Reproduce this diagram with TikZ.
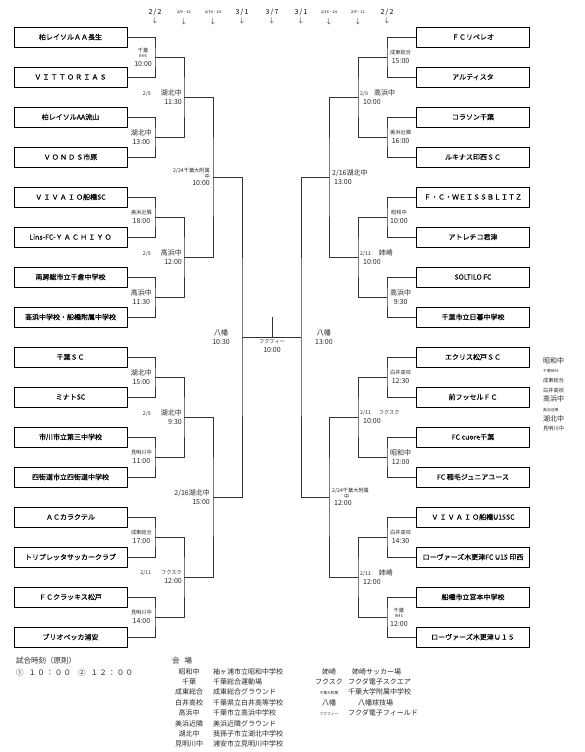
\documentclass[tikz,border=0pt]{standalone}
\usepackage{fontspec}
\setmainfont{Noto Sans CJK JP}
\newfontfamily\teamfam{Noto Sans CJK JP}[FakeBold=0.3]
\usetikzlibrary{positioning}
\newcommand\teamfont{\teamfam\fontsize{7}{8}\selectfont}
\newcommand\smfont{\fontsize{5.2}{6}\selectfont}
\newcommand\tnfont{\fontsize{3.8}{4.5}\selectfont}

\begin{document}
\begin{tikzpicture}[x=1pt,y=-1pt,
  team/.style={draw=black,line width=0.8pt,minimum width=113pt,minimum height=20pt,inner sep=0pt,font=\teamfont},
  brk/.style={draw=black!80,line width=0.8pt},
  lbl/.style={inner sep=0pt,align=center,font=\fontsize{7}{9.5}\selectfont,text=black!85},
  dte/.style={inner sep=0pt,font=\fontsize{7}{8}\selectfont},
  lst/.style={inner sep=0pt,font=\fontsize{7}{10.4}\selectfont,text=black!85}]
\useasboundingbox (0,0) rectangle (584,752);

% dates of each round
\node[dte] (dt_l1) at (155,12) {2\,/\,2};
\node[dte] (dt_l2) at (184,12) {\tnfont 2/9・11};
\node[dte] (dt_l3) at (213,12) {\tnfont 2/16・24};
\node[dte] (dt_l4) at (242,12) {3\,/\,1};
\node[dte] (dt_fin) at (272,12) {3\,/\,7};
\node[dte] (dt_r4) at (301,12) {3\,/\,1};
\node[dte] (dt_r3) at (329,12) {\tnfont 2/16・24};
\node[dte] (dt_r2) at (358,12) {\tnfont 2/9・11};
\node[dte] (dt_r1) at (387,12) {2\,/\,2};
\node[dte,below=2pt of dt_l1] (ar_l1) {$\downarrow$};
\node[dte,below=4pt of dt_l2] (ar_l2) {$\downarrow$};
\node[dte,below=4pt of dt_l3] (ar_l3) {$\downarrow$};
\node[dte,below=2pt of dt_l4] (ar_l4) {$\downarrow$};
\node[dte,below=2pt of dt_fin] (ar_fin) {$\downarrow$};
\node[dte,below=2pt of dt_r4] (ar_r4) {$\downarrow$};
\node[dte,below=4pt of dt_r3] (ar_r3) {$\downarrow$};
\node[dte,below=4pt of dt_r2] (ar_r2) {$\downarrow$};
\node[dte,below=2pt of dt_r1] (ar_r1) {$\downarrow$};

% left teams
\node[team] (tm_l1) at (70.5,37) {柏レイソルＡＡ長生};
\node[team] (tm_l2) at (70.5,77) {Ｖ\,Ｉ\,Ｔ\,Ｔ\,Ｏ\,Ｒ\,Ｉ\,Ａ\,Ｓ};
\node[team] (tm_l3) at (70.5,117) {柏レイソルAA流山};
\node[team] (tm_l4) at (70.5,157) {Ｖ\,Ｏ\,Ｎ\,Ｄ\,Ｓ市原};
\node[team] (tm_l5) at (70.5,197) {Ｖ\,Ｉ\,Ｖ\,Ａ\,Ｉ\,Ｏ船橋SC};
\node[team] (tm_l6) at (70.5,237) {Lins-FC-Ｙ\,Ａ\,Ｃ\,Ｈ\,Ｉ\,Ｙ\,Ｏ};
\node[team] (tm_l7) at (70.5,277) {南房総市立千倉中学校};
\node[team] (tm_l8) at (70.5,317) {高浜中学校・船橋附属中学校};
\node[team] (tm_l9) at (70.5,357) {千葉ＳＣ};
\node[team] (tm_l10) at (70.5,397) {ミナトSC};
\node[team] (tm_l11) at (70.5,437) {市川市立第三中学校};
\node[team] (tm_l12) at (70.5,477) {四街道市立四街道中学校};
\node[team] (tm_l13) at (70.5,517) {ＡＣカラクテル};
\node[team] (tm_l14) at (70.5,557) {トリプレッタサッカークラブ};
\node[team] (tm_l15) at (70.5,597) {ＦＣクラッキス松戸};
\node[team] (tm_l16) at (70.5,637) {ブリオベッカ浦安};

% right teams
\node[team] (tm_r1) at (473,37) {ＦＣリベレオ};
\node[team] (tm_r2) at (473,77) {アルティスタ};
\node[team] (tm_r3) at (473,117) {コラソン千葉};
\node[team] (tm_r4) at (473,157) {ルキナス印西ＳＣ};
\node[team] (tm_r5) at (473,197) {Ｆ・Ｃ・ＷＥＩＳＳＢＬＩＴＺ};
\node[team] (tm_r6) at (473,237) {アトレチコ君津};
\node[team] (tm_r7) at (473,277) {SOLTILO FC};
\node[team] (tm_r8) at (473,317) {千葉市立日暮中学校};
\node[team] (tm_r9) at (473,357) {エクリス松戸ＳＣ};
\node[team] (tm_r10) at (473,397) {前フッセルＦＣ};
\node[team] (tm_r11) at (473,437) {FC cuore千葉};
\node[team] (tm_r12) at (473,477) {FC 稲毛ジュニアユース};
\node[team] (tm_r13) at (473,517) {Ｖ\,Ｉ\,Ｖ\,Ａ\,Ｉ\,Ｏ船橋U15SC};
\node[team] (tm_r14) at (473,557) {ローヴァーズ木更津FC U15 印西};
\node[team] (tm_r15) at (473,597) {船橋市立宮本中学校};
\node[team] (tm_r16) at (473,637) {ローヴァーズ木更津Ｕ１５};

% match points
\coordinate (ml1) at (155,57);
\coordinate (ml2) at (155,137);
\coordinate (ml3) at (155,217);
\coordinate (ml4) at (155,297);
\coordinate (ml5) at (155,377);
\coordinate (ml6) at (155,457);
\coordinate (ml7) at (155,537);
\coordinate (ml8) at (155,617);
\coordinate (nl1) at (184,97);
\coordinate (nl2) at (184,257);
\coordinate (nl3) at (184,417);
\coordinate (nl4) at (184,577);
\coordinate (ol1) at (213,177);
\coordinate (ol2) at (213,497);
\coordinate (pl) at (242,337);
\coordinate (mr1) at (387,57);
\coordinate (mr2) at (387,137);
\coordinate (mr3) at (387,217);
\coordinate (mr4) at (387,297);
\coordinate (mr5) at (387,377);
\coordinate (mr6) at (387,457);
\coordinate (mr7) at (387,537);
\coordinate (mr8) at (387,617);
\coordinate (nr1) at (358,97);
\coordinate (nr2) at (358,257);
\coordinate (nr3) at (358,417);
\coordinate (nr4) at (358,577);
\coordinate (or1) at (329,177);
\coordinate (or2) at (329,497);
\coordinate (pr) at (301,337);
\coordinate (fin) at (272,337);
\coordinate (champ) at (272,317);

% bracket lines
\draw[brk] (tm_l1.east) -| (ml1) |- (tm_l2.east);
\draw[brk] (tm_l3.east) -| (ml2) |- (tm_l4.east);
\draw[brk] (tm_l5.east) -| (ml3) |- (tm_l6.east);
\draw[brk] (tm_l7.east) -| (ml4) |- (tm_l8.east);
\draw[brk] (tm_l9.east) -| (ml5) |- (tm_l10.east);
\draw[brk] (tm_l11.east) -| (ml6) |- (tm_l12.east);
\draw[brk] (tm_l13.east) -| (ml7) |- (tm_l14.east);
\draw[brk] (tm_l15.east) -| (ml8) |- (tm_l16.east);
\draw[brk] (ml1) -| (nl1) |- (ml2);
\draw[brk] (ml3) -| (nl2) |- (ml4);
\draw[brk] (ml5) -| (nl3) |- (ml6);
\draw[brk] (ml7) -| (nl4) |- (ml8);
\draw[brk] (nl1) -| (ol1) |- (nl2);
\draw[brk] (nl3) -| (ol2) |- (nl4);
\draw[brk] (ol1) -| (pl) |- (ol2);
\draw[brk] (tm_r1.west) -| (mr1) |- (tm_r2.west);
\draw[brk] (tm_r3.west) -| (mr2) |- (tm_r4.west);
\draw[brk] (tm_r5.west) -| (mr3) |- (tm_r6.west);
\draw[brk] (tm_r7.west) -| (mr4) |- (tm_r8.west);
\draw[brk] (tm_r9.west) -| (mr5) |- (tm_r10.west);
\draw[brk] (tm_r11.west) -| (mr6) |- (tm_r12.west);
\draw[brk] (tm_r13.west) -| (mr7) |- (tm_r14.west);
\draw[brk] (tm_r15.west) -| (mr8) |- (tm_r16.west);
\draw[brk] (mr1) -| (nr1) |- (mr2);
\draw[brk] (mr3) -| (nr2) |- (mr4);
\draw[brk] (mr5) -| (nr3) |- (mr6);
\draw[brk] (mr7) -| (nr4) |- (mr8);
\draw[brk] (nr1) -| (or1) |- (nr2);
\draw[brk] (nr3) -| (or2) |- (nr4);
\draw[brk] (or1) -| (pr) |- (or2);
\draw[brk] (pl) -- (pr);
\draw[brk] (fin) -- (champ);

% venues and kick-off times, left
\node[lbl,left=3pt of ml1] (lb_ml1) {{\smfont 千葉}\\[-4pt]{\tnfont RMS}\\[-1pt]10:00};
\node[lbl,left=3pt of ml2] (lb_ml2) {湖北中\\13:00};
\node[lbl,left=3pt of ml3] (lb_ml3) {{\smfont 美浜近隣}\\18:00};
\node[lbl,left=3pt of ml4] (lb_ml4) {高浜中\\11:30};
\node[lbl,left=3pt of ml5] (lb_ml5) {湖北中\\15:00};
\node[lbl,left=3pt of ml6] (lb_ml6) {{\smfont 見明川中}\\11:00};
\node[lbl,left=3pt of ml7] (lb_ml7) {{\smfont 成東総合}\\17:00};
\node[lbl,left=3pt of ml8] (lb_ml8) {{\smfont 見明川中}\\14:00};
\node[lbl,left=2pt of nl1,align=right] (lb_nl1) {{\smfont 2/9}\hspace{10pt}湖北中\\11:30};
\node[lbl,left=2pt of nl2,align=right] (lb_nl2) {{\smfont 2/9}\hspace{10pt}高浜中\\12:00};
\node[lbl,left=2pt of nl3,align=right] (lb_nl3) {{\smfont 2/9}\hspace{10pt}湖北中\\9:30};
\node[lbl,left=2pt of nl4,align=right] (lb_nl4) {{\smfont 2/11\hspace{10pt}フクスク}\\12:00};
\node[lbl,left=3pt of ol1,align=right] (lb_ol1) {{\smfont 2/24千葉大附属}\\[-4pt]{\smfont 中}\hspace{8pt}\\[-2pt]10:00};
\node[lbl,left=3pt of ol2,align=right] (lb_ol2) {2/16湖北中\\15:00};
\node[lbl,left=12pt of pl] (lb_pl) {八幡\\10:30};
\node[lbl,below=2pt of fin] (lb_fin) {{\smfont フクフィー}\\10:00};

% venues and kick-off times, right
\node[lbl,right=3pt of mr1] (lb_mr1) {{\smfont 成東総合}\\15:00};
\node[lbl,right=3pt of mr2] (lb_mr2) {{\smfont 美浜近隣}\\16:00};
\node[lbl,right=3pt of mr3] (lb_mr3) {{\smfont 昭和中}\\10:00};
\node[lbl,right=3pt of mr4] (lb_mr4) {高浜中\\9:30};
\node[lbl,right=3pt of mr5] (lb_mr5) {{\smfont 白井高校}\\12:30};
\node[lbl,right=3pt of mr6] (lb_mr6) {昭和中\\12:00};
\node[lbl,right=3pt of mr7] (lb_mr7) {{\smfont 白井高校}\\14:30};
\node[lbl,right=3pt of mr8] (lb_mr8) {{\smfont 千葉}\\[-4pt]{\tnfont RMS}\\[-1pt]12:00};
\node[lbl,right=2pt of nr1,align=left] (lb_nr1) {{\smfont 2/9}\hspace{6pt}高浜中\\\hspace{3pt}10:00};
\node[lbl,right=2pt of nr2,align=left] (lb_nr2) {{\smfont 2/11}\hspace{8pt}姉崎\\\hspace{3pt}10:00};
\node[lbl,right=2pt of nr3,align=left] (lb_nr3) {{\smfont 2/11\hspace{8pt}フクスク}\\\hspace{3pt}10:00};
\node[lbl,right=2pt of nr4,align=left] (lb_nr4) {{\smfont 2/11}\hspace{8pt}姉崎\\\hspace{3pt}12:00};
\node[lbl,right=3pt of or1,align=left] (lb_or1) {2/16湖北中\\\hspace{2pt}13:00};
\node[lbl,right=3pt of or2,align=left] (lb_or2) {{\smfont 2/24千葉大附属}\\[-4pt]\hspace{12pt}{\smfont 中}\\[-2pt]\hspace{2pt}12:00};
\node[lbl,right=14pt of pr] (lb_pr) {八幡\\13:00};

% venue samples at right edge
\node[lst,anchor=north west,align=left,font=\fontsize{7}{9.7}\selectfont] (vn_side) at (543,357) {昭和中\\{\tnfont 千葉RMS}\\{\smfont 成東総合}\\{\smfont 白井高校}\\高浜中\\{\tnfont 美浜近隣}\\湖北中\\{\smfont 見明川中}};

% notes
\node[lst,anchor=west,font=\fontsize{7.5}{9}\selectfont] (nt_time) at (16,661) {試合時刻（原則）};
\node[lst,anchor=west,font=\fontsize{7.5}{9}\selectfont] (nt_kick) at (16,673) {①\hspace{5pt}１\,０\,：\,０\,０\hspace{7pt}②\hspace{5pt}１\,２\,：\,０\,０};
\node[lst,anchor=west,font=\fontsize{7.5}{9}\selectfont] (vn_head) at (172,661) {会\hspace{5pt}場};
\node[lst,anchor=north,align=center] (vn_abbr1) at (189,668) {昭和中\\千葉\\成東総合\\白井高校\\高浜中\\美浜近隣\\湖北中\\見明川中};
\node[lst,anchor=north west,align=left] (vn_full1) at (213,668) {袖ヶ浦市立昭和中学校\\千葉総合運動場\\成東総合グラウンド\\千葉県立白井高等学校\\千葉市立高浜中学校\\美浜近隣グラウンド\\我孫子市立湖北中学校\\浦安市立見明川中学校};
\node[lst,anchor=north,align=center] (vn_abbr2) at (329,668) {姉崎\\フクスク\\{\tnfont 千葉大附属}\\八幡\\{\tnfont フクフィー}};
\node[lst,anchor=north west,align=left] (vn_full2) at (348,668) {\hspace{4pt}姉崎サッカー場\\フクダ電子スクエア\\千葉大学附属中学校\\\hspace{10pt}八幡球技場\\フクダ電子フィールド};
\end{tikzpicture}
\end{document}
